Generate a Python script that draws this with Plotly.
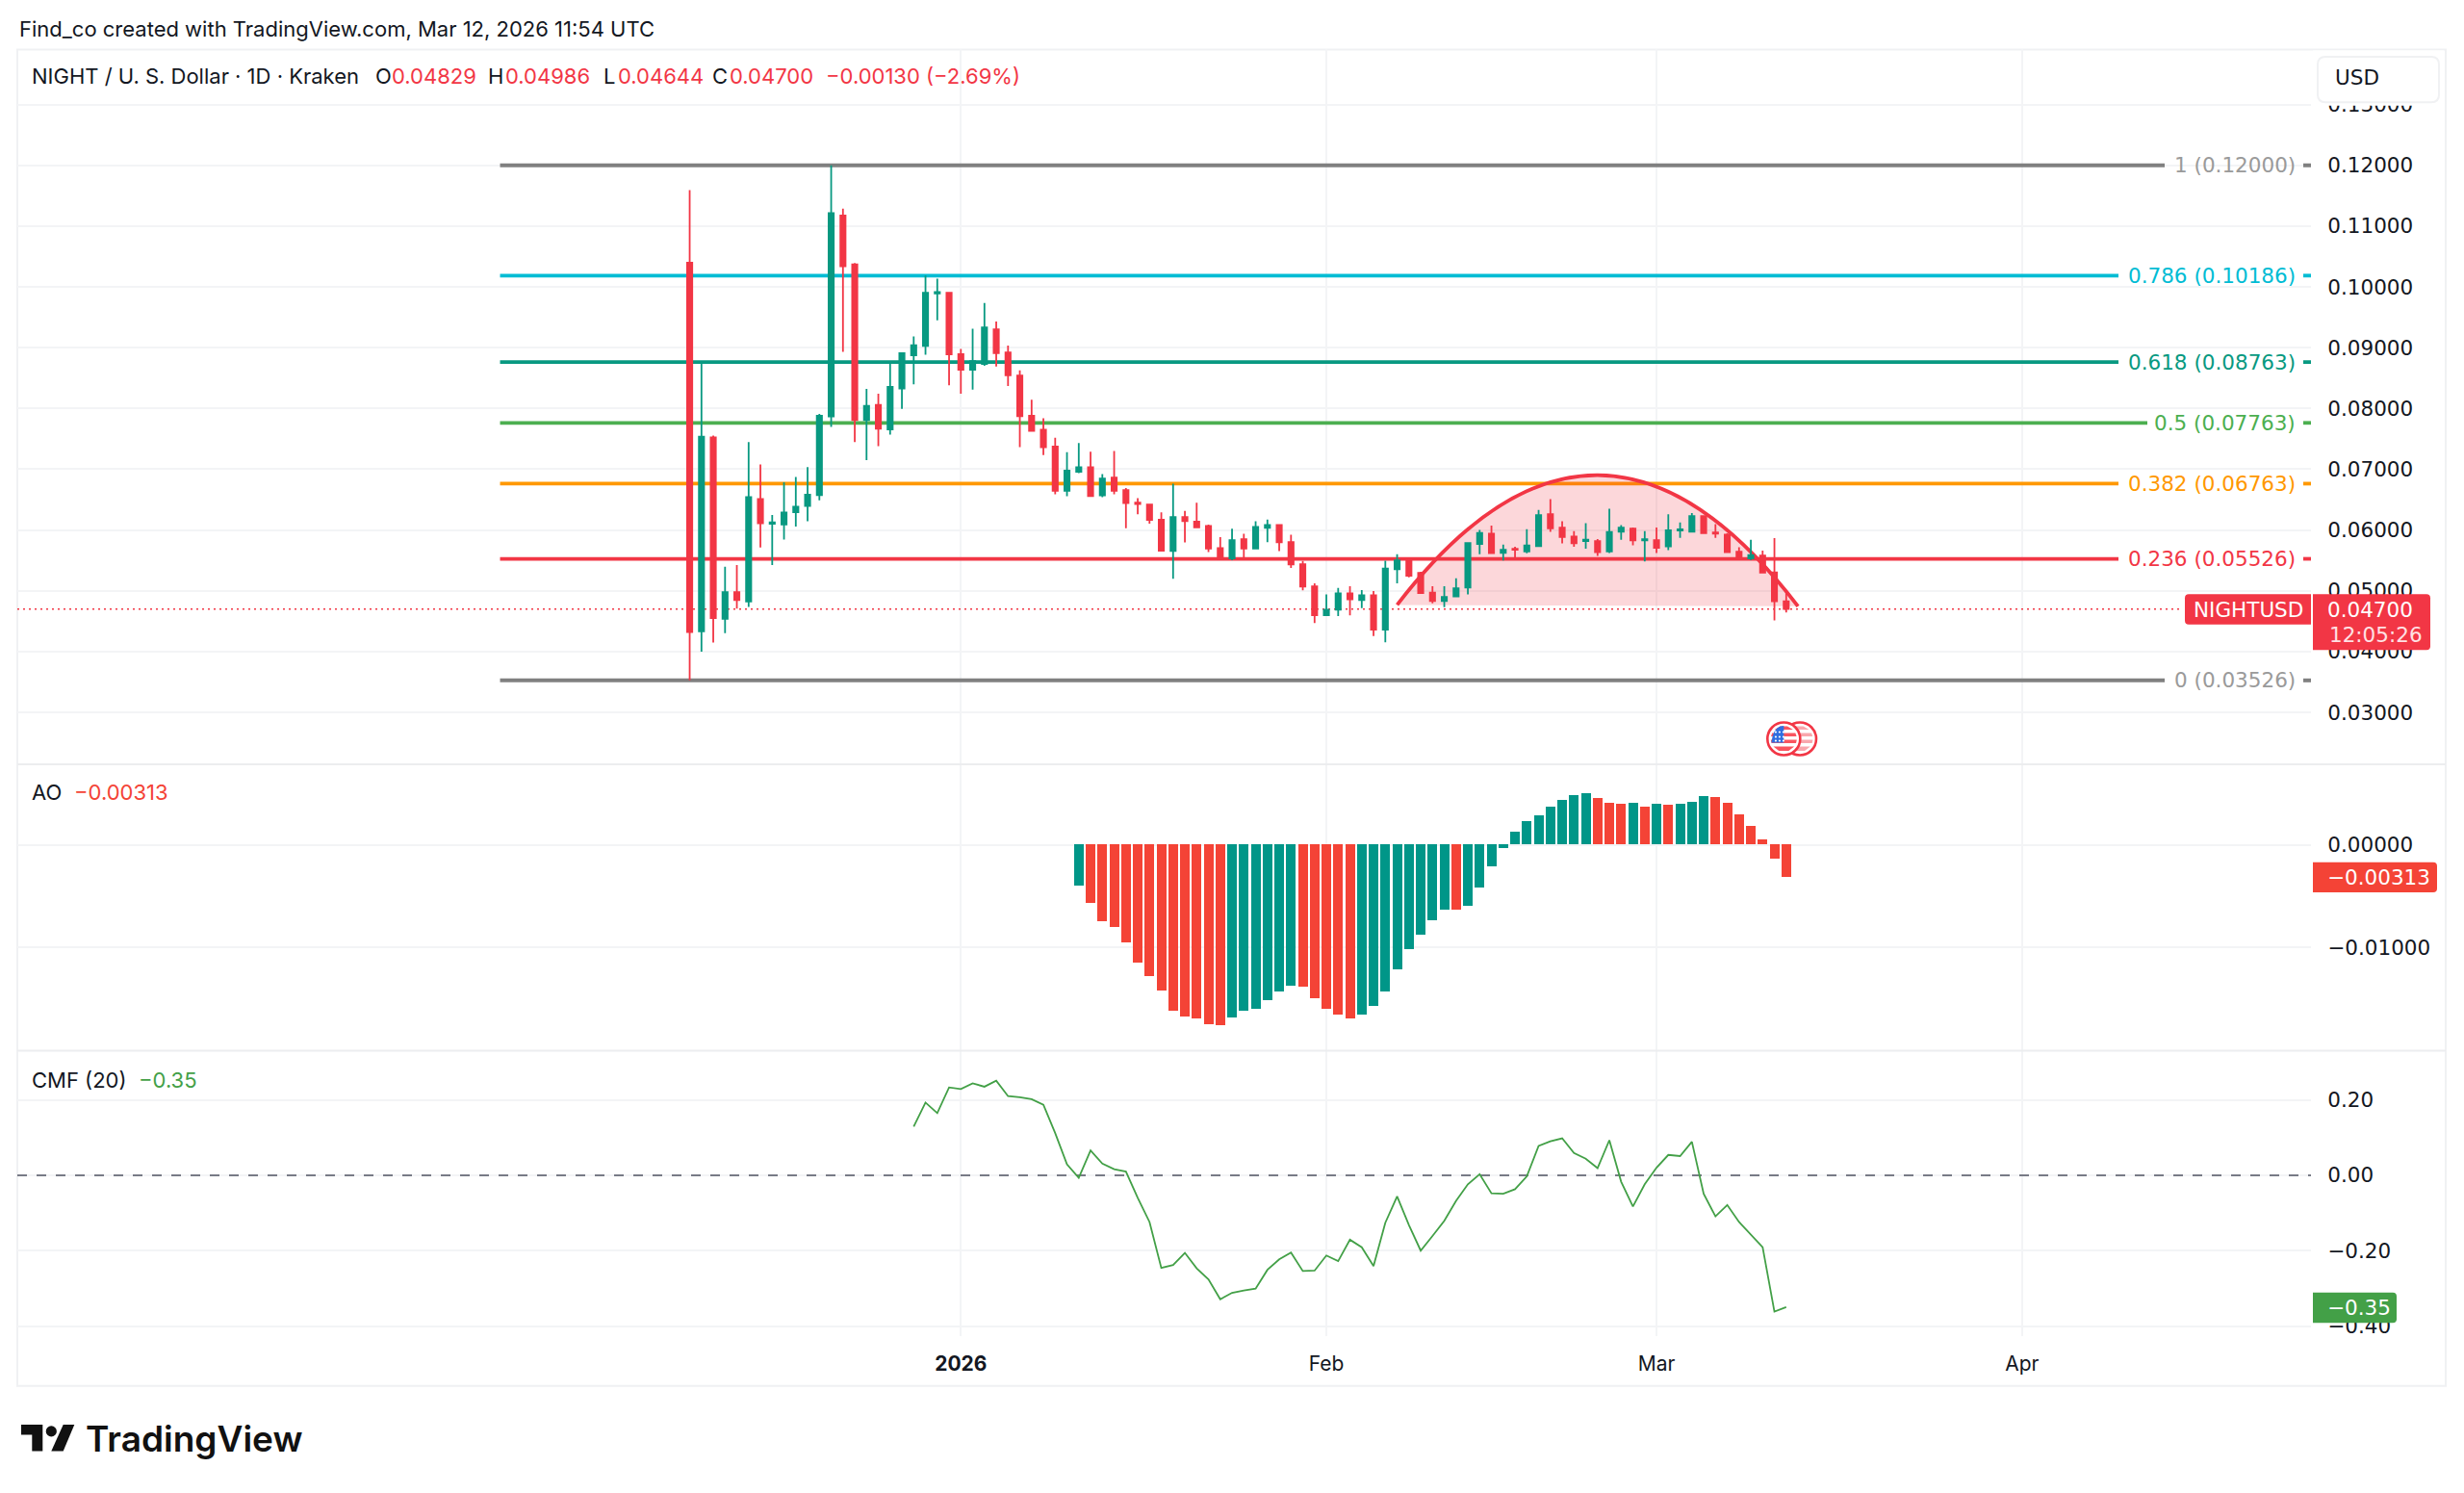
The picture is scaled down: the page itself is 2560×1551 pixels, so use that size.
import math
from datetime import datetime, timedelta

import pandas as pd
import plotly.graph_objects as go

# ---- NIGHT / USD daily candles -------------------------------------------------
first_day = "2025-12-09"
opens = [
    .10398, .04332, .07523, .04539, .04976, .04826, .06511, .06103, .06091, .06293,
    .06396, .06574, .07868, .11174, .10369, .07811, .08058, .07655, .08328, .08874,
    .09030, .09892, .09904, .08892, .08639, .08731, .09300, .08920, .08541, .07880,
    .07649, .07374, .06644, .06960, .07034, .06569, .06862, .06655, .06451, .06419,
    .06171, .05654, .06213, .06139, .06066, .05702, .05533, .05849, .05697, .06034,
    .06081, .05802, .05438, .05074, .04600, .04689, .04958, .04848, .04927, .04362,
    .05354, .05501, .05296, .04969, .04832, .04906, .05053, .05771, .05939, .05623,
    .05692, .05649, .05734, .06261, .06040, .05892, .05818, .05818, .05649, .05971,
    .06024, .05829, .05834, .05729, .05992, .05971, .06229, .05961, .05924, .05644,
    .05534, .05581, .05301, .04829,
]
highs = [
    .11594, .08763, .07552, .05396, .05424, .07448, .07080, .06247, .06787, .06873,
    .07034, .07912, .12000, .11289, .10392, .08322, .08242, .08748, .08909, .09185,
    .10185, .10134, .09904, .08978, .09311, .09737, .09432, .09035, .08627, .08144,
    .07839, .07517, .07282, .07431, .07287, .06919, .07299, .06689, .06524, .06435,
    .06292, .06763, .06313, .06451, .06087, .05881, .06023, .05939, .06145, .06171,
    .06081, .05923, .05491, .05122, .04942, .05048, .05074, .05011, .04995, .05496,
    .05602, .05522, .05312, .05074, .05074, .05206, .05797, .06000, .06071, .05760,
    .05723, .06013, .06330, .06509, .06145, .05982, .06113, .05850, .06351, .06082,
    .06040, .05982, .06040, .06261, .06124, .06277, .06235, .06098, .05945, .05718,
    .05839, .05660, .05866, .04986,
]
lows = [
    .03526, .04000, .04148, .04303, .04705, .04734, .05712, .05424, .05844, .06057,
    .06143, .06488, .07696, .08932, .07448, .07149, .07379, .07569, .07995, .08397,
    .08886, .09449, .08380, .08242, .08311, .08702, .08690, .08369, .07362, .07621,
    .07235, .06586, .06557, .06937, .06557, .06540, .06586, .06028, .06261, .06103,
    .05654, .05196, .05797, .06034, .05639, .05512, .05501, .05533, .05697, .05800,
    .05654, .05375, .05006, .04468, .04595, .04584, .04595, .04716, .04257, .04152,
    .05122, .05222, .04963, .04795, .04732, .04906, .04942, .05602, .05607, .05497,
    .05523, .05618, .05723, .05971, .05781, .05723, .05692, .05576, .05623, .05839,
    .05750, .05481, .05623, .05671, .05871, .05961, .05950, .05871, .05623, .05518,
    .05507, .05296, .04511, .04644,
]
closes = [
    .04320, .07535, .04550, .04976, .04849, .06540, .06109, .06126, .06287, .06385,
    .06580, .07880, .11214, .10341, .07811, .08041, .07667, .08357, .08909, .09041,
    .09904, .09915, .08892, .08639, .08777, .09334, .08909, .08547, .07874, .07632,
    .07362, .06644, .06977, .07034, .06557, .06845, .06644, .06442, .06429, .06166,
    .05660, .06213, .06145, .06045, .05697, .05522, .05834, .05697, .06050, .06081,
    .05797, .05433, .05069, .04600, .04689, .04958, .04858, .04927, .04362, .05364,
    .05501, .05248, .04963, .04832, .04900, .05043, .05786, .05950, .05618, .05676,
    .05676, .05744, .06245, .06029, .05887, .05781, .05839, .05634, .05966, .06040,
    .05829, .05850, .05707, .05997, .06013, .06229, .05950, .05939, .05634, .05518,
    .05586, .05301, .04830, .04700,
]

# Awesome Oscillator, daily from 11 Jan
ao_first_day = "2026-01-11"
ao_values = [
    -.00403, -.00569, -.00744, -.00803, -.00956, -.01150, -.01288, -.01425, -.01625, -.01678,
    -.01697, -.01756, -.01766, -.01688, -.01625, -.01600, -.01522, -.01438, -.01381, -.01391,
    -.01497, -.01600, -.01659, -.01697, -.01659, -.01572, -.01434, -.01219, -.01022, -.00878,
    -.00734, -.00638, -.00638, -.00594, -.00422, -.00213, -.00031,
    .00128, .00232, .00291, .00369, .00438, .00482, .00507, .00457, .00407, .00397, .00407,
    .00369, .00397, .00388, .00397, .00423, .00476, .00463, .00407, .00300, .00188, .00050,
    -.00134, -.00313,
]

# Chaikin Money Flow (20), daily from 28 Dec
cmf_first_day = "2025-12-28"
cmf_values = [
    .129, .193, .165, .233, .229, .244, .235, .251, .210, .207, .202, .187, .112, .029, -.007,
    .066, .031, .016, .010, -.060, -.124, -.246, -.238, -.206, -.247, -.276, -.329, -.312,
    -.306, -.301, -.251, -.223, -.205, -.254, -.253, -.213, -.228, -.171, -.191, -.241, -.126,
    -.056, -.132, -.200, -.161, -.121, -.068, -.024, .003, -.048, -.049, -.037, -.003, .078,
    .090, .098, .059, .044, .019, .093, -.017, -.083, -.024, .020, .054, .051, .089, -.049,
    -.109, -.079, -.124, -.157, -.191, -.362, -.350,
]

# Fibonacci retracement levels
fib_ratios = ["1", "0.786", "0.618", "0.5", "0.382", "0.236", "0"]
fib_prices = [.12000, .10186, .08763, .07763, .06763, .05526, .03526]
fib_start = "2025-11-22 22:00"

# Hand-drawn curve: start, control and end point
curve_dates = ["2026-02-07", "2026-02-24", "2026-03-13"]
curve_prices = [.04768, .09051, .04745]

price_ticks = [.03, .04, .05, .06, .07, .08, .09, .10, .11, .12, .13]
ao_ticks = [0, -.01]
cmf_ticks = [.2, 0, -.2, -.4]
month_ticks = ["2026-01-01", "2026-02-01", "2026-03-01", "2026-04-01"]
month_labels = ["<b>2026</b>", "Feb", "Mar", "Apr"]

last_price = closes[-1]
prev_close = closes[-2]

# ---- Page layout, in pixels ------------------------------------------------------
W, H = 2560, 1551
Y_SHIFT = 1.5
PANE_L, PANE_R, FRAME_R = 18, 2401, 2541
FRAME_T, FRAME_B = 50, 1440
PRICE_B, AO_B, CMF_B = 793, 1091, 1388
DAY_PX = 12.25
NEW_YEAR_PX = 998.3

UP, DOWN = "#089981", "#F23645"
AO_UP, AO_DOWN = "#009688", "#F44336"
CMF_GREEN = "#43A047"
GRAY = "#787B86"
INK = "#131722"
GRID = "#F3F4F6"
FRAME = "#F0F1F3"
FONT = "Inter, Liberation Sans, sans-serif"
SCALE_FONT = "DejaVu Sans, sans-serif"
SCALE_SIZE = 21.5
HEAD_SIZE = 22
fib_colors = ["#808080", "#00BCD4", "#089981", "#4CAF50", "#FF9800", "#F23645", "#808080"]
fib_label_colors = ["#9A9A9A", "#00BCD4", "#089981", "#4CAF50", "#FF9800", "#F23645", "#9A9A9A"]
fib_widths = [4, 3.8, 3.8, 3.8, 3.8, 3.8, 4]
fib_line_ends = [2249, 2201, 2201, 2231, 2201, 2201, 2249]


def px(x):
    return x / W


def py(y):
    return 1 - (y + Y_SHIFT) / H


def date_at(x):
    """Date on the shared time axis at horizontal page position x."""
    moment = datetime(2026, 1, 1) + timedelta(days=(x - NEW_YEAR_PX) / DAY_PX)
    return moment.strftime("%Y-%m-%d %H:%M:%S")


def price_y(p):
    return 170.5 + (.12 - p) * 6322


def rounded_path(x0, y0, x1, y1, r_left, r_right):
    parts = [
        f"M {px(x0 + r_left)},{py(y0)}",
        f"L {px(x1 - r_right)},{py(y0)}",
        f"Q {px(x1)},{py(y0)} {px(x1)},{py(y0 + r_right)}",
        f"L {px(x1)},{py(y1 - r_right)}",
        f"Q {px(x1)},{py(y1)} {px(x1 - r_right)},{py(y1)}",
        f"L {px(x0 + r_left)},{py(y1)}",
        f"Q {px(x0)},{py(y1)} {px(x0)},{py(y1 - r_left)}",
        f"L {px(x0)},{py(y0 + r_left)}",
        f"Q {px(x0)},{py(y0)} {px(x0 + r_left)},{py(y0)} Z",
    ]
    return " ".join(parts)


def box(x0, y0, x1, y1, fill, r_left=0, r_right=4, line=None, layer="above"):
    return dict(
        type="path", xref="paper", yref="paper", layer=layer, fillcolor=fill,
        path=rounded_path(x0, y0, x1, y1, r_left, r_right),
        line=dict(width=2 if line else 0, color=line or fill),
    )


def polygon(points, fill):
    body = " L ".join(f"{px(a)},{py(b)}" for a, b in points)
    return dict(type="path", xref="paper", yref="paper", layer="above",
                path=f"M {body} Z", fillcolor=fill, line=dict(width=0))


def circle(cx, cy, r, fill, line=None, width=0):
    return dict(type="circle", xref="paper", yref="paper", layer="above",
                x0=px(cx - r), x1=px(cx + r), y0=py(cy + r), y1=py(cy - r),
                fillcolor=fill, line=dict(color=line or fill, width=width))


def flag_icon(cx, cy, red, blue):
    """Round US-flag marker for economic events."""
    items = [circle(cx, cy, 17, "white", line="#F23645", width=2.6)]
    r = 13.5
    for a, b in [(-13, -9.5), (-6, -2.5), (1, 4.5), (8, 12.5)]:
        half_a = math.sqrt(max(r * r - a * a, 0))
        half_b = math.sqrt(max(r * r - b * b, 0))
        items.append(polygon([(cx - half_a, cy + a), (cx + half_a, cy + a),
                              (cx + half_b, cy + b), (cx - half_b, cy + b)], red))
    if blue:
        items.append(dict(type="path", xref="paper", yref="paper", layer="above", fillcolor=blue,
                          line=dict(width=0),
                          path=(f"M {px(cx)},{py(cy - r)} L {px(cx)},{py(cy + 4)} "
                                f"L {px(cx - 12.9)},{py(cy + 4)} "
                                f"Q {px(cx - 11)},{py(cy - r)} {px(cx)},{py(cy - r)} Z")))
        for dx in (-9, -5, -1):
            for dy in (-7, -2, 2):
                items.append(circle(cx + dx + 0.6, cy + dy, 1.1, "white"))
    return items


def note(x, y, text, color=INK, size=HEAD_SIZE, anchor="left", weight=None, family=FONT):
    font = dict(family=family, size=size, color=color)
    if weight:
        font["weight"] = weight
    return dict(xref="paper", yref="paper", x=px(x), y=py(y), text=text, showarrow=False,
                xanchor=anchor, yanchor="middle", borderpad=0, borderwidth=0, font=font)


def scale_note(x, y, text, color="white"):
    return note(x, y, text, color=color, size=SCALE_SIZE, family=SCALE_FONT)


# ---- Traces ------------------------------------------------------------------------
days = pd.date_range(first_day, periods=len(opens), freq="D")
ao_days = pd.date_range(ao_first_day, periods=len(ao_values), freq="D")
cmf_days = pd.date_range(cmf_first_day, periods=len(cmf_values), freq="D")

# Oscillator columns are coloured by direction against the previous day
ao_colors = [AO_UP if i == 0 or v > ao_values[i - 1] else AO_DOWN for i, v in enumerate(ao_values)]

fig = go.Figure()
fig.add_trace(go.Candlestick(
    x=days, open=opens, high=highs, low=lows, close=closes, xaxis="x", yaxis="y",
    whiskerwidth=0,
    increasing=dict(line=dict(color=UP, width=1.8), fillcolor=UP),
    decreasing=dict(line=dict(color=DOWN, width=1.8), fillcolor=DOWN),
))
fig.add_trace(go.Bar(
    x=ao_days, y=ao_values, xaxis="x", yaxis="y2", marker=dict(color=ao_colors, line=dict(width=0)),
    width=0.82 * 86400000,
))
fig.add_trace(go.Scatter(
    x=cmf_days, y=cmf_values, xaxis="x", yaxis="y3", mode="lines",
    line=dict(color=CMF_GREEN, width=1.8),
))

# ---- Drawings ----------------------------------------------------------------------
shapes = []
annotations = []

# Frame and pane separators
shapes.append(dict(type="rect", xref="paper", yref="paper", layer="below",
                   x0=px(PANE_L), x1=px(FRAME_R), y0=py(FRAME_B), y1=py(FRAME_T),
                   line=dict(color=FRAME, width=2), fillcolor="white"))
for sep in (PRICE_B + 0.5, AO_B + 0.5):
    shapes.append(dict(type="line", xref="paper", yref="paper", layer="above",
                       x0=px(PANE_L), x1=px(FRAME_R), y0=py(sep), y1=py(sep),
                       line=dict(color="#ECEDEF", width=2)))

# Fibonacci levels: long run, then a short stub after the level label
for ratio, level, color, label_color, end, thick in zip(fib_ratios, fib_prices, fib_colors,
                                                        fib_label_colors, fib_line_ends, fib_widths):
    shapes.append(dict(type="line", xref="x", yref="y", layer="between",
                       x0=fib_start, x1=date_at(end), y0=level, y1=level,
                       line=dict(color=color, width=thick)))
    shapes.append(dict(type="line", xref="x", yref="y", layer="between",
                       x0=date_at(2393), x1=date_at(PANE_R), y0=level, y1=level,
                       line=dict(color=color, width=thick)))
    annotations.append(dict(xref="paper", yref="y", x=px(2386), y=level, showarrow=False,
                            xanchor="right", yanchor="middle", borderpad=0,
                            text=f"{ratio} ({level:.5f})",
                            font=dict(family=SCALE_FONT, size=SCALE_SIZE, color=label_color)))

# Curve over the rounded top
curve_path = (f"M {curve_dates[0]},{curve_prices[0]} "
              f"Q {curve_dates[1]},{curve_prices[1]} {curve_dates[2]},{curve_prices[2]}")
shapes.append(dict(type="path", xref="x", yref="y", layer="between", path=curve_path + " Z",
                   fillcolor="rgba(242,54,69,0.2)", line=dict(width=0)))
shapes.append(dict(type="path", xref="x", yref="y", layer="between", path=curve_path,
                   line=dict(color=DOWN, width=3.8)))

# Last-price dotted line
shapes.append(dict(type="line", xref="x", yref="y", layer="between",
                   x0=date_at(PANE_L), x1=date_at(2266), y0=last_price, y1=last_price,
                   line=dict(color=DOWN, width=1.6, dash="2px,4px")))

# CMF zero band line
shapes.append(dict(type="line", xref="x", yref="y3", layer="between",
                   x0=date_at(PANE_L), x1=date_at(PANE_R), y0=0, y1=0,
                   line=dict(color=GRAY, width=2, dash="10px,10px")))

# Currency button, masking the top of the scale behind it
shapes.append(dict(type="rect", xref="paper", yref="paper", layer="above",
                   x0=px(PANE_R + 2), x1=px(FRAME_R - 2), y0=py(108.5), y1=py(FRAME_T + 1),
                   fillcolor="white", line=dict(width=0)))
shapes.append(box(2408, 57.5, 2534, 105, "white", 8, 8, line=FRAME))
annotations.append(scale_note(2426, 79.5, "USD", color=INK))

# Last-value tags on the scales
tag_y = price_y(last_price)
shapes.append(box(2270, tag_y - 15.5, 2401, tag_y + 16, DOWN, 4, 0))
shapes.append(box(2403, tag_y - 15.5, 2525, tag_y + 42.5, DOWN, 0, 4))
annotations.append(scale_note(2279, tag_y + 0.5, "NIGHTUSD"))
annotations.append(scale_note(2418, tag_y + 0.5, f"{last_price:.5f}"))
annotations.append(scale_note(2420, tag_y + 27, "12:05:26", color="#FFE1E4"))

shapes.append(box(2403, 895.5, 2532, 926.8, AO_DOWN, 0, 4))
annotations.append(scale_note(2418, 911, f"\u2212{abs(ao_values[-1]):.5f}"))
shapes.append(box(2403, 1343, 2490, 1374.4, CMF_GREEN, 0, 4))
annotations.append(scale_note(2418, 1358.5, f"\u2212{abs(cmf_values[-1]):.2f}"))

# Event markers near the last bar
shapes.extend(flag_icon(1870, 767, "#F9A7AD", None))
shapes.extend(flag_icon(1853.3, 767, "#F9545F", "#2F6FE0"))

# Logo mark
ink = "#111111"
shapes.append(polygon([(22, 1480.5), (44.3, 1480.5), (44.3, 1508), (33.3, 1508), (33.3, 1491), (22, 1491)], ink))
shapes.append(circle(53.3, 1487.3, 5.6, ink))
shapes.append(polygon([(65.7, 1480.5), (77.3, 1480.5), (65.7, 1508), (53.3, 1508)], ink))

# ---- Header and legends ------------------------------------------------------------
annotations += [
    note(19.5, 28.5, "Find_co created with TradingView.com, Mar 12, 2026 11:54 UTC"),
    note(33, 77.5, "NIGHT / U. S. Dollar \u00b7 1D \u00b7 Kraken"),
    note(389.5, 77.5, "O"),
    note(407, 77.5, f"{opens[-1]:.5f}", color=DOWN),
    note(507, 77.5, "H"),
    note(525, 77.5, f"{highs[-1]:.5f}", color=DOWN),
    note(627, 77.5, "L"),
    note(642, 77.5, f"{lows[-1]:.5f}", color=DOWN),
    note(740, 77.5, "C"),
    note(758, 77.5, f"{closes[-1]:.5f}", color=DOWN),
    note(857.5, 77.5,
         f"\u2212{abs(last_price - prev_close):.5f} (\u2212{abs(last_price / prev_close - 1) * 100:.2f}%)",
         color=DOWN),
    note(33, 823, "AO"),
    note(77, 823, f"\u2212{abs(ao_values[-1]):.5f}", color=AO_DOWN),
    note(33, 1122, "CMF (20)"),
    note(144, 1122, f"\u2212{abs(cmf_values[-1]):.2f}", color=CMF_GREEN),
    note(89, 1495, "TradingView", color=ink, size=37, weight=600),
]

# ---- Axes ---------------------------------------------------------------------------
scale_font = dict(family=SCALE_FONT, size=SCALE_SIZE, color=INK)
time_font = dict(family=FONT, size=21, color=INK)


def value_axis(top_px, bottom_px, zero_px, px_per_unit, ticks, fmt):
    return dict(
        domain=[py(bottom_px), py(top_px)],
        range=[(zero_px - bottom_px) / px_per_unit, (zero_px - top_px) / px_per_unit],
        side="right", anchor="x", tickmode="array", tickvals=ticks, tickformat=fmt,
        showgrid=True, gridcolor=GRID, gridwidth=2, zeroline=False, showline=False,
        ticks="outside", ticklen=12, tickcolor="rgba(0,0,0,0)", tickfont=scale_font,
        fixedrange=True,
    )


price_axis = value_axis(FRAME_T, PRICE_B, price_y(0), 6322, price_ticks, ".5f")
ao_axis = value_axis(PRICE_B + 1, AO_B, 877.6, 10650, ao_ticks, ".5f")
cmf_axis = value_axis(AO_B + 1, CMF_B, 1221, 392, cmf_ticks, ".2f")

fig.update_layout(
    width=W, height=H, autosize=False, margin=dict(l=0, r=0, t=0, b=0),
    paper_bgcolor="white", plot_bgcolor="rgba(0,0,0,0)", showlegend=False,
    boxgap=0.38, bargap=0, dragmode=False,
    xaxis=dict(
        domain=[px(PANE_L), px(PANE_R)], range=[date_at(PANE_L), date_at(PANE_R)], type="date",
        anchor="y3", rangeslider=dict(visible=False), tickmode="array", tickvals=month_ticks,
        ticktext=month_labels, showgrid=True, gridcolor=GRID, gridwidth=2, zeroline=False,
        showline=False, ticks="outside", ticklen=10, tickcolor="rgba(0,0,0,0)", tickfont=time_font,
    ),
    yaxis=price_axis, yaxis2=ao_axis, yaxis3=cmf_axis,
    shapes=shapes, annotations=annotations,
)

fig.write_html("out.html", config=dict(displayModeBar=False))
